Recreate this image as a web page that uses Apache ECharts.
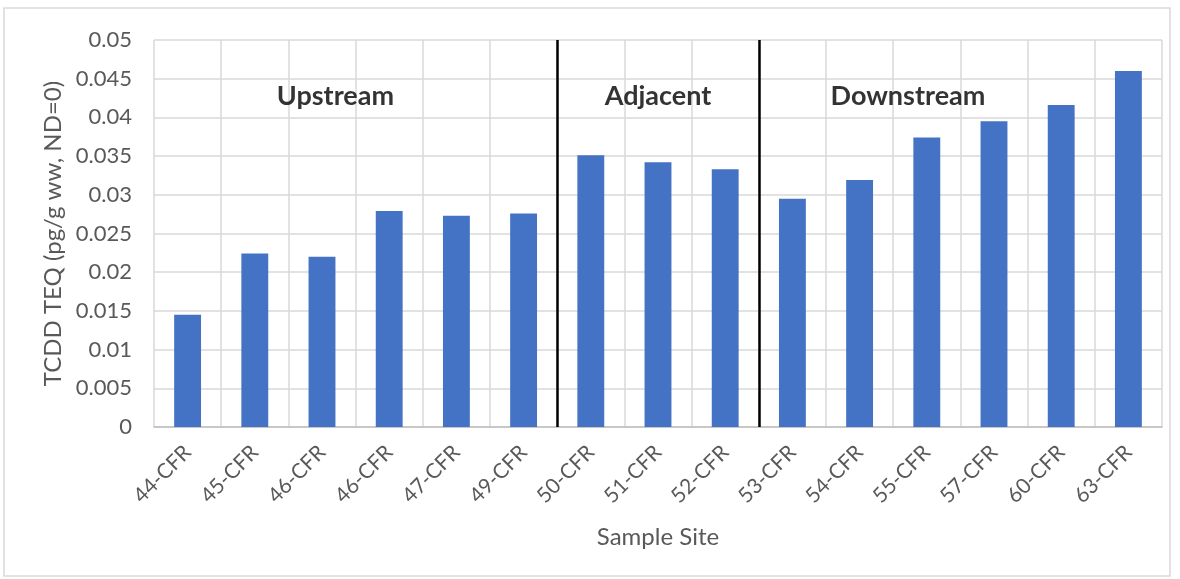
<!DOCTYPE html>
<html>
<head>
<meta charset="utf-8">
<script src="https://cdn.jsdelivr.net/npm/echarts@6/dist/echarts.min.js"></script>
<style>html,body{margin:0;padding:0;background:#fff}#c{width:1180px;height:579px}</style>
</head>
<body>
<div id="c"></div>
<script>
const categories = ['44-CFR','45-CFR','46-CFR','46-CFR','47-CFR','49-CFR','50-CFR','51-CFR','52-CFR','53-CFR','54-CFR','55-CFR','57-CFR','60-CFR','63-CFR'];
const teqValues = [0.0145,0.0224,0.0220,0.0279,0.0273,0.0276,0.0351,0.0342,0.0333,0.0295,0.0319,0.0374,0.0395,0.0416,0.0460];
const groupNames = ['Upstream','Adjacent','Downstream'];
const groupLabelPos = [[2.70,0.0427],[7.50,0.0427],[11.22,0.0427]];
const dividerPos = [6, 9];
const yMin = 0, yMax = 0.05, yStep = 0.005;

const font = 'Lato, "Open Sans", sans-serif';
const chart = echarts.init(document.getElementById('c'));
chart.setOption({
  animation: false,
  backgroundColor: '#fff',
  graphic: [{
    type: 'rect', shape: {x: 4, y: 8, width: 1166, height: 568},
    style: {fill: 'none', stroke: '#d9d9d9', lineWidth: 1.5}, silent: true, z: -1
  }],
  grid: {left: 154, right: 18, top: 40, bottom: 152},
  xAxis: [{
    type: 'category', data: categories,
    name: 'Sample Site', nameLocation: 'middle', nameGap: 98,
    nameTextStyle: {fontFamily: font, fontSize: 24, color: '#595959'},
    axisLine: {show: true, lineStyle: {color: '#bfbfbf', width: 1.5}},
    axisTick: {show: false},
    axisLabel: {interval: 0, rotate: 45, fontFamily: font, fontSize: 21, color: '#595959', margin: 22},
    splitLine: {show: true, interval: 0, lineStyle: {color: '#d9d9d9', width: 1.5}}
  }, {
    type: 'value', min: 0, max: categories.length, show: false
  }],
  yAxis: {
    type: 'value', min: yMin, max: yMax, interval: yStep,
    name: 'TCDD TEQ (pg/g ww, ND=0)', nameLocation: 'middle', nameGap: 84,
    nameTextStyle: {fontFamily: font, fontSize: 24, color: '#595959'},
    axisLine: {show: false}, axisTick: {show: false},
    axisLabel: {fontFamily: font, fontSize: 22, color: '#595959', margin: 22,
      formatter: v => String(parseFloat(v.toFixed(4)))},
    splitLine: {lineStyle: {color: '#d9d9d9', width: 1.5}}
  },
  series: [{
    type: 'bar', data: teqValues, barWidth: '40%',
    itemStyle: {color: '#4472C4'}
  }, {
    type: 'scatter', xAxisIndex: 1, symbolSize: 0,
    data: groupNames.map((n, i) => ({name: n, value: groupLabelPos[i]})),
    label: {show: true, position: 'inside', formatter: p => p.name,
      fontFamily: font, fontSize: 27, fontWeight: 'bold', color: '#000'},
    markLine: {
      silent: true, symbol: ['none','none'], label: {show: false},
      lineStyle: {color: '#000', width: 2.5, type: 'solid'},
      data: dividerPos.map(x => [{coord: [x, yMin]}, {coord: [x, yMax]}])
    }
  }]
});
</script>
</body>
</html>
